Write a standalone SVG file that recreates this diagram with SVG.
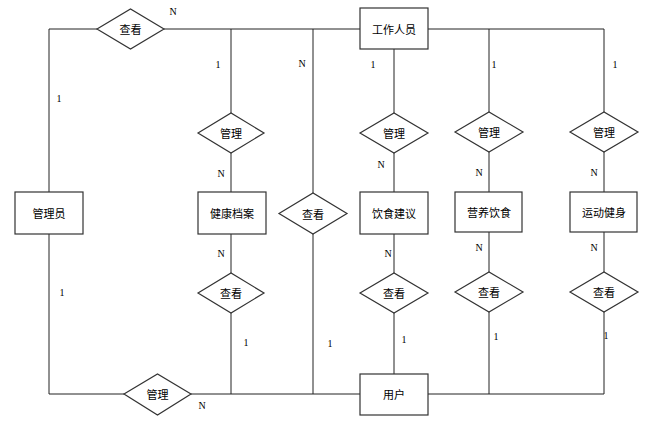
<svg xmlns="http://www.w3.org/2000/svg" width="667" height="422" viewBox="0 0 667 422">
<style>
.e{fill:#fff;stroke:#333;stroke-width:1.2}
.r{fill:#fff;stroke:#333;stroke-width:1.2}
.c{fill:none;stroke:#222;stroke-width:1}
.t{font-family:"Noto Sans CJK SC","Noto Sans CJK JP",sans-serif;font-size:11px;fill:#000;text-anchor:middle;dominant-baseline:central}
.m{font-family:"Liberation Serif",serif;font-size:10px;fill:#000;text-anchor:middle;dominant-baseline:central}
</style>
<rect width="667" height="422" fill="#fff"/>
<g id="connectors" class="c">
<path d="M97,29H49V192M49,234V394H124M191,394H360M428,394H604V312M604,272V232M604,192V152M604,112V29H428M360,29H164"/>
<path d="M231,29V113M231,153V192M231,234V273M231,313V394"/>
<path d="M313,29V193M313,234V394"/>
<path d="M394,49V113M394,153V192M394,234V273M394,313V374"/>
<path d="M489,29V112M489,152V192M489,232V272M489,312V394"/>
</g>
<g id="gongzuorenyuan"><rect class="r" x="360" y="8" width="68" height="41"/><text class="t" x="394" y="29">工作人员</text></g>
<g id="guanliyuan"><rect class="r" x="15" y="192" width="68" height="42"/><text class="t" x="49" y="213">管理员</text></g>
<g id="jiankangdangan"><rect class="r" x="198" y="192" width="68" height="42"/><text class="t" x="232" y="213">健康档案</text></g>
<g id="yinshijianyi"><rect class="r" x="360" y="192" width="68" height="42"/><text class="t" x="394" y="213">饮食建议</text></g>
<g id="yingyangyinshi"><rect class="r" x="455" y="192" width="67" height="40"/><text class="t" x="489" y="212">营养饮食</text></g>
<g id="yundongjianshen"><rect class="r" x="570" y="192" width="67" height="40"/><text class="t" x="604" y="212">运动健身</text></g>
<g id="yonghu"><rect class="r" x="360" y="374" width="68" height="41"/><text class="t" x="394" y="394">用户</text></g>
<g id="chakan-top"><polygon class="e" points="97,29 130.5,9 164,29 130.5,49"/><text class="t" x="130.5" y="29">查看</text></g>
<g id="guanli-1"><polygon class="e" points="198,133 231,113 264,133 231,153"/><text class="t" x="231" y="133">管理</text></g>
<g id="guanli-2"><polygon class="e" points="360,133 394,113 428,133 394,153"/><text class="t" x="394" y="133">管理</text></g>
<g id="guanli-3"><polygon class="e" points="455,132 489,112 523,132 489,152"/><text class="t" x="489" y="132">管理</text></g>
<g id="guanli-4"><polygon class="e" points="570,132 604,112 638,132 604,152"/><text class="t" x="604" y="132">管理</text></g>
<g id="chakan-mid"><polygon class="e" points="279,213.5 313,193 347,213.5 313,234"/><text class="t" x="313" y="213.5">查看</text></g>
<g id="chakan-1"><polygon class="e" points="198,293 231,273 264,293 231,313"/><text class="t" x="231" y="293">查看</text></g>
<g id="chakan-2"><polygon class="e" points="360,293 394,273 428,293 394,313"/><text class="t" x="394" y="293">查看</text></g>
<g id="chakan-3"><polygon class="e" points="455,292 489,272 523,292 489,312"/><text class="t" x="489" y="292">查看</text></g>
<g id="chakan-4"><polygon class="e" points="570,292 604,272 638,292 604,312"/><text class="t" x="604" y="292">查看</text></g>
<g id="guanli-bottom"><polygon class="e" points="124,394 157.5,374 191,394 157.5,415"/><text class="t" x="157.5" y="394">管理</text></g>
<g id="labels">
<text class="m" x="173" y="11">N</text>
<text class="m" x="59" y="98">1</text>
<text class="m" x="218" y="64">1</text>
<text class="m" x="302" y="63">N</text>
<text class="m" x="373" y="64">1</text>
<text class="m" x="494" y="64">1</text>
<text class="m" x="615" y="64">1</text>
<text class="m" x="221" y="173">N</text>
<text class="m" x="381" y="164">N</text>
<text class="m" x="479" y="172">N</text>
<text class="m" x="594" y="172">N</text>
<text class="m" x="221" y="253">N</text>
<text class="m" x="388" y="253">N</text>
<text class="m" x="479" y="247">N</text>
<text class="m" x="594" y="247">N</text>
<text class="m" x="62" y="292">1</text>
<text class="m" x="246" y="342">1</text>
<text class="m" x="330" y="343">1</text>
<text class="m" x="404" y="339">1</text>
<text class="m" x="496" y="336">1</text>
<text class="m" x="606" y="335">1</text>
<text class="m" x="202" y="405">N</text>
</g>
</svg>
